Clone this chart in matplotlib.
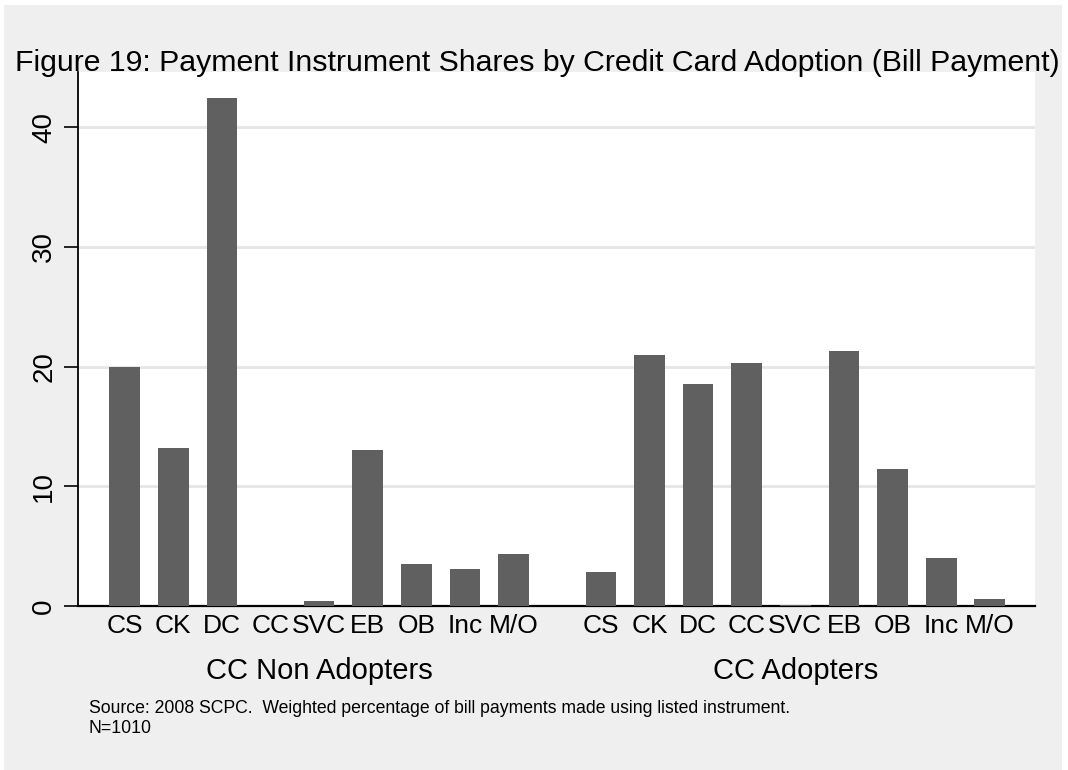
import matplotlib
matplotlib.use('Agg')
import matplotlib.pyplot as plt
from matplotlib.patches import Rectangle

plt.rcParams['font.family'] = ['Liberation Sans', 'DejaVu Sans']

# data (weighted % of bill payments)
instruments = ['CS', 'CK', 'DC', 'CC', 'SVC', 'EB', 'OB', 'Inc', 'M/O']
groups = ['CC Non Adopters', 'CC Adopters']
non_adopters = [20.0, 13.2, 42.4, 0.0, 0.4, 13.0, 3.5, 3.05, 4.35]
adopters = [2.85, 20.95, 18.5, 20.3, 0.1, 21.3, 11.45, 4.0, 0.55]
yticks = [0, 10, 20, 30, 40]

title = 'Figure 19: Payment Instrument Shares by Credit Card Adoption (Bill Payment)'
note = ('Source: 2008 SCPC.  Weighted percentage of bill payments made using listed instrument.\n'
        'N=1010')

BG = '#efefef'
BAR = '#606060'
W, H = 1068, 770

fig = plt.figure(figsize=(W / 100, H / 100), dpi=100)
fig.patch.set_facecolor('white')
fig.patches.append(Rectangle((4 / W, 0), 1058 / W, 765 / H, transform=fig.transFigure,
                             facecolor=BG, edgecolor='none', zorder=-10))

ax = fig.add_axes([78 / W, 1 - 606 / H, (1035 - 78) / W, (606 - 72) / H])
ax.set_facecolor('white')

gap = 9.8
n = len(instruments)
x1 = list(range(n))
x2 = [i + gap for i in range(n)]
ax.bar(x1, non_adopters, width=0.63, color=BAR, zorder=3)
ax.bar(x2, adopters, width=0.63, color=BAR, zorder=3)

ax.set_xlim(-0.96, x2[-1] + 0.93)
ax.set_ylim(0, 44.6)

ax.set_yticks(yticks)
ax.set_yticklabels([str(t) for t in yticks], rotation=90, va='center', fontsize=20)
ax.tick_params(axis='y', length=10, width=1.2, pad=5)
ax.yaxis.grid(True, color='#e6e6e6', linewidth=2, zorder=0)

ax.set_xticks(x1 + x2)
ax.set_xticklabels(instruments + instruments, fontsize=19)
ax.tick_params(axis='x', length=0, pad=6)

for s in ['top', 'right']:
    ax.spines[s].set_visible(False)
ax.spines['left'].set_linewidth(1.3)
ax.spines['bottom'].set_linewidth(1.6)

# group labels under the instrument labels
for xs, g in zip([x1, x2], groups):
    ax.text((xs[0] + xs[-1]) / 2, -0.121, g, transform=ax.get_xaxis_transform(),
            ha='center', va='center', fontsize=21)

fig.text(15 / W, 1 - 71 / H, title, fontsize=21.8, ha='left', va='baseline')
fig.text(89 / W, 1 - 700 / H, note, fontsize=12.7, ha='left', va='top', linespacing=1.2)

fig.savefig('out.png', dpi=100, facecolor=fig.get_facecolor())
